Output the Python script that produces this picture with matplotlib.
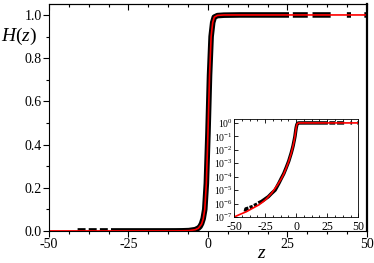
import numpy as np
import matplotlib
matplotlib.use("Agg")
import matplotlib.pyplot as plt
from matplotlib.ticker import MultipleLocator, FixedLocator, NullFormatter

plt.rcParams['font.family'] = ['Liberation Serif', 'DejaVu Serif']
plt.rcParams['mathtext.fontset'] = 'custom'
plt.rcParams['mathtext.rm'] = 'Liberation Serif'
plt.rcParams['mathtext.it'] = 'Liberation Serif:italic'

# fitted curve H(z)
z_fit = [-50, -45, -40, -35, -30, -25, -20, -15, -12, -10, -8, -6, -4, -3, -2,
         -1.5, -1, -0.5, 0, 0.5, 1, 1.5, 2, 3, 5, 10, 50]
H_fit = [1.0e-7, 1.6e-7, 2.5e-7, 4.5e-7, 8e-7, 1.8e-6, 5.6e-6, 2.5e-5, 7e-5,
         1.6e-4, 4.5e-4, 1.4e-3, 5.6e-3, 0.0126, 0.032,
         0.055, 0.10, 0.22, 0.45, 0.72, 0.90, 0.965, 0.99, 0.998, 1.0, 1.0, 1.0]

# measured data, nan marks gaps between runs of points
z_data = [-41, -40.5, -38.5, np.nan,
          -37.5, -35, np.nan,
          -34, -31.5, np.nan,
          -30.5, -28, -25, -22.5, -20, -17, -14, -12, -10, -8, -6, -4, -3,
          -2.5, -2, -1.5, -1, -0.5, 0, 0.5, 1, 1.5, 2, 3, 5, 10, 15, 20, 25.5, np.nan,
          26.7, 31.4, np.nan,
          32.9, 38.6, np.nan,
          43.7, 45, np.nan,
          49.2, 50]
H_data = [2.5e-7, 4e-7, 4.5e-7, np.nan,
          5e-7, 6e-7, np.nan,
          7e-7, 9e-7, np.nan,
          1.1e-6, 1.4e-6, 2.2e-6, 3.2e-6, 5.5e-6, 1.0e-5, 3.2e-5, 7.5e-5,
          1.7e-4, 4.8e-4, 1.45e-3, 5.8e-3, 0.013,
          0.02, 0.034, 0.057, 0.10, 0.22, 0.45, 0.72, 0.90, 0.965, 0.99, 0.997, 0.999, 1.0, 1.0, 1.0, 1.0, np.nan,
          1.0, 1.0, np.nan,
          1.0, 1.0, np.nan,
          1.0, 1.0, np.nan,
          1.0, 1.0]

xticks = [-50, -25, 0, 25, 50]
yticks = [0.0, 0.2, 0.4, 0.6, 0.8, 1.0]
inset_yticks = [1e0, 1e-1, 1e-2, 1e-3, 1e-4, 1e-5, 1e-6, 1e-7]

fig = plt.figure(figsize=(3.74, 2.63), dpi=100)
ax = fig.add_axes([0.131, 0.122, 0.850, 0.863])

ax.plot(z_data, H_data, color='black', lw=4.0, solid_capstyle='butt')
ax.plot(z_fit, H_fit, color='red', lw=1.2)

ax.set_xlim(-50, 50)
ax.set_ylim(0, 1.051)
ax.set_xticks(xticks)
ax.set_xticklabels([str(t) for t in xticks])
ax.set_yticks(yticks)
ax.set_yticklabels(['%.1f' % t for t in yticks])
ax.xaxis.set_minor_locator(MultipleLocator(6.25))
ax.yaxis.set_minor_locator(MultipleLocator(0.1))
ax.tick_params(axis='both', which='major', labelsize=10, direction='out', length=4, width=0.8)
ax.tick_params(axis='both', which='minor', direction='out', length=2, width=0.8)
ax.tick_params(axis='x', pad=1)
ax.tick_params(axis='y', pad=1)
ax.spines['right'].set_linewidth(1.6)
ax.spines['left'].set_linewidth(0.8)
ax.spines['top'].set_linewidth(0.8)
ax.spines['bottom'].set_linewidth(0.8)

# top ticks point inward
tx = ax.secondary_xaxis('top')
tx.set_xticks(xticks)
tx.xaxis.set_minor_locator(MultipleLocator(6.25))
tx.tick_params(which='major', direction='in', length=4, width=0.8, labeltop=False)
tx.tick_params(which='minor', direction='in', length=2, width=0.8)
tx.set_xticklabels([])

# axis titles sit where the original puts them
fig.text(19 / 374, 1 - 36 / 263, '$H(z)$', fontsize=14, ha='center', va='center')
fig.text(262 / 374, 1 - 254 / 263, '$z$', fontsize=14, ha='center', va='center')

# inset on log scale
ins = fig.add_axes([0.626, 0.175, 0.332, 0.373])
ins.plot(z_data, H_data, color='black', lw=2.5, solid_capstyle='butt')
ins.plot(z_fit, H_fit, color='red', lw=1.2)
ins.set_yscale('log')
ins.set_xlim(-50, 50)
ins.set_ylim(1e-7, 2.0)
ins.set_xticks(xticks)
ins.set_xticklabels([str(t) for t in xticks])
ins.xaxis.set_minor_locator(MultipleLocator(6.25))
ins.yaxis.set_major_locator(FixedLocator(inset_yticks))
ins.set_yticklabels(['$10^{%d}$' % int(round(np.log10(t))) for t in inset_yticks])
ins.yaxis.set_minor_formatter(NullFormatter())
ins.tick_params(axis='x', which='major', labelsize=8.5, direction='in', length=3, width=0.6, pad=3, top=True)
ins.tick_params(axis='x', which='minor', direction='in', length=1.5, width=0.6, top=True)
ins.tick_params(axis='y', which='major', labelsize=7, direction='in', length=3, width=0.6, pad=1)
ins.tick_params(axis='y', which='minor', direction='in', length=1.5, width=0.6)
for s in ins.spines.values():
    s.set_linewidth(0.6)

fig.savefig('out.png', dpi=100)
